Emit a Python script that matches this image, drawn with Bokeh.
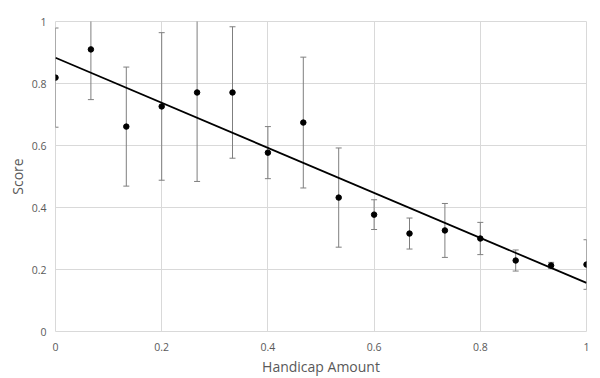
import numpy as np
from bokeh.plotting import figure
from bokeh.models import ColumnDataSource, Whisker, TeeHead, FixedTicker, Range1d
from bokeh.embed import file_html
from bokeh.resources import INLINE

handicap = [i / 15 for i in range(16)]
score = [0.819, 0.910, 0.661, 0.726, 0.771, 0.771, 0.577, 0.674,
         0.432, 0.377, 0.316, 0.326, 0.300, 0.229, 0.213, 0.216]
err = [0.160, 0.162, 0.192, 0.238, 0.287, 0.212, 0.084, 0.211,
       0.160, 0.048, 0.050, 0.087, 0.052, 0.034, 0.010, 0.080]
x_ticks = [0, 0.2, 0.4, 0.6, 0.8, 1]
y_ticks = [0, 0.2, 0.4, 0.6, 0.8, 1]

FONT = "Open Sans"
GRAY = "#595959"
GRID = "#d9d9d9"

p = figure(width=592, height=378, output_backend="svg", toolbar_location=None,
           x_range=Range1d(0, 1), y_range=Range1d(0, 1),
           min_border_left=55, min_border_right=6, min_border_top=21, min_border_bottom=10)

p.outline_line_color = GRID
for ax in (p.xaxis, p.yaxis):
    ax.axis_line_color = None
    ax.major_tick_line_color = None
    ax.minor_tick_line_color = None
    ax.major_tick_out = 0
    ax.major_tick_in = 0
    ax.major_label_text_font = FONT
    ax.major_label_text_font_size = "10.5px"
    ax.major_label_text_color = GRAY
    ax.axis_label_text_font = FONT
    ax.axis_label_text_font_size = "14px"
    ax.axis_label_text_color = GRAY
    ax.axis_label_text_font_style = "normal"

p.xaxis.ticker = FixedTicker(ticks=x_ticks)
p.yaxis.ticker = FixedTicker(ticks=y_ticks)
p.xaxis.major_label_overrides = {t: ("0" if t == 0 else ("1" if t == 1 else str(t))) for t in x_ticks}
p.yaxis.major_label_overrides = {t: ("0" if t == 0 else ("1" if t == 1 else str(t))) for t in y_ticks}
p.xaxis.major_label_standoff = 11
p.yaxis.major_label_standoff = 9
p.xaxis.axis_label = "Handicap Amount"
p.yaxis.axis_label = "Score"
p.xaxis.axis_label_standoff = 3
p.yaxis.axis_label_standoff = 2

p.xgrid.grid_line_color = GRID
p.ygrid.grid_line_color = GRID

src = ColumnDataSource(dict(
    x=handicap, y=score,
    upper=[s + e for s, e in zip(score, err)],
    lower=[s - e for s, e in zip(score, err)],
))

wh = Whisker(source=src, base="x", upper="upper", lower="lower",
             line_color="#7f7f7f", line_width=1,
             upper_head=TeeHead(size=6, line_color="#7f7f7f", line_width=1),
             lower_head=TeeHead(size=6, line_color="#7f7f7f", line_width=1))
p.add_layout(wh)

slope, intercept = np.polyfit(handicap, score, 1)
p.line([0, 1], [intercept, intercept + slope], line_color="black", line_width=1.8)

p.scatter("x", "y", source=src, size=5.5, color="black")

open("out.html", "w").write(file_html(p, INLINE))
